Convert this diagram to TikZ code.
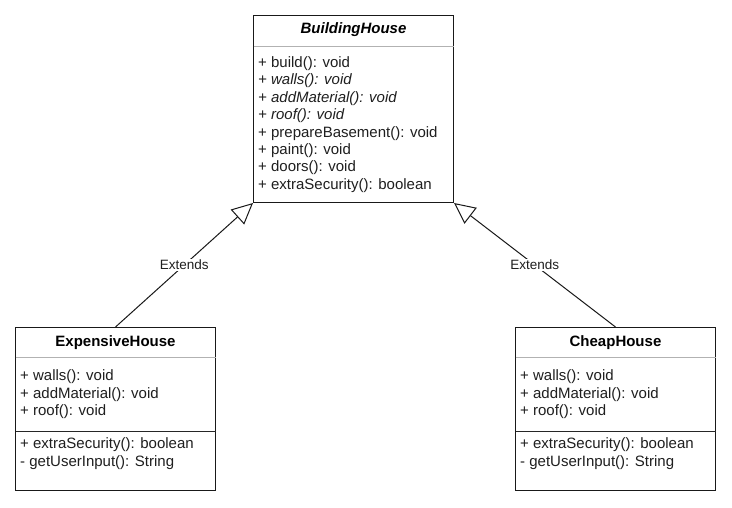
\documentclass[tikz,border=0pt]{standalone}
\usepackage{fontspec}
\setmainfont{Liberation Sans}
\usetikzlibrary{arrows.meta}
\begin{document}
\begin{tikzpicture}[x=1pt,y=-1pt,
  classbox/.style={draw=black!90, line width=1pt, fill=white, minimum width=200pt, inner sep=0pt, rectangle},
  member/.style={anchor=base west, inner sep=0pt, font=\fontsize{15}{18}\selectfont, text=black!88},
  ititle/.style={anchor=base, inner sep=0pt, font=\fontsize{15}{18}\selectfont\bfseries\itshape},
  ctitle/.style={anchor=base, inner sep=0pt, font=\fontsize{15}{18}\selectfont\bfseries},
  sepa/.style={draw=black!30, line width=1pt},
  sepb/.style={draw=black!85, line width=1pt},
  ext/.style={draw=black!90, line width=1pt, -{Triangle[length=21pt,width=20pt,fill=white]}},
  lbl/.style={fill=white, inner sep=1pt, font=\fontsize{13.5}{16}\selectfont, text=black!88}
]
\useasboundingbox (0,0) rectangle (732,507);
\fill[white] (0,0) rectangle (732,507);

% BuildingHouse
\node[classbox, minimum height=187.5pt] (bh) at (353.5,108.75) {};
\draw[sepa] (253.5,46) -- (453.5,46);
\node[ititle] (bht) at (353.5,33.8) {BuildingHouse};
\node[member] (bm1) at (258,67.5) {+ build(): void};
\node[member, font=\fontsize{15}{18}\selectfont\itshape] (bm2) at (258,84.9) {+ walls(): void};
\node[member, font=\fontsize{15}{18}\selectfont\itshape] (bm3) at (258,102.3) {+ addMaterial(): void};
\node[member, font=\fontsize{15}{18}\selectfont\itshape] (bm4) at (258,119.7) {+ roof(): void};
\node[member] (bm5) at (258,137.1) {+ prepareBasement(): void};
\node[member] (bm6) at (258,154.5) {+ paint(): void};
\node[member] (bm7) at (258,171.9) {+ doors(): void};
\node[member] (bm8) at (258,189.3) {+ extraSecurity(): boolean};

% ExpensiveHouse
\node[classbox, minimum height=162.5pt] (eh) at (115.5,408.75) {};
\draw[sepa] (15.5,357.5) -- (215.5,357.5);
\draw[sepb] (15.5,431.5) -- (215.5,431.5);
\node[ctitle] (eht) at (115.5,346.3) {ExpensiveHouse};
\node[member] (em1) at (20,380.8) {+ walls(): void};
\node[member] (em2) at (20,398.1) {+ addMaterial(): void};
\node[member] (em3) at (20,415.4) {+ roof(): void};
\node[member] (em4) at (20,448.5) {+ extraSecurity(): boolean};
\node[member] (em5) at (20,466) {- getUserInput(): String};

% CheapHouse
\node[classbox, minimum height=162.5pt] (ch) at (615.5,408.75) {};
\draw[sepa] (515.5,357.5) -- (715.5,357.5);
\draw[sepb] (515.5,431.5) -- (715.5,431.5);
\node[ctitle] (cht) at (615.5,346.3) {CheapHouse};
\node[member] (cm1) at (520,380.8) {+ walls(): void};
\node[member] (cm2) at (520,398.1) {+ addMaterial(): void};
\node[member] (cm3) at (520,415.4) {+ roof(): void};
\node[member] (cm4) at (520,448.5) {+ extraSecurity(): boolean};
\node[member] (cm5) at (520,466) {- getUserInput(): String};

% Generalisations
\draw[ext] (eh.north) -- (bh.south west) node[lbl, midway] (l1) {Extends};
\draw[ext] (ch.north) -- (bh.south east) node[lbl, midway] (l2) {Extends};
\end{tikzpicture}
\end{document}
